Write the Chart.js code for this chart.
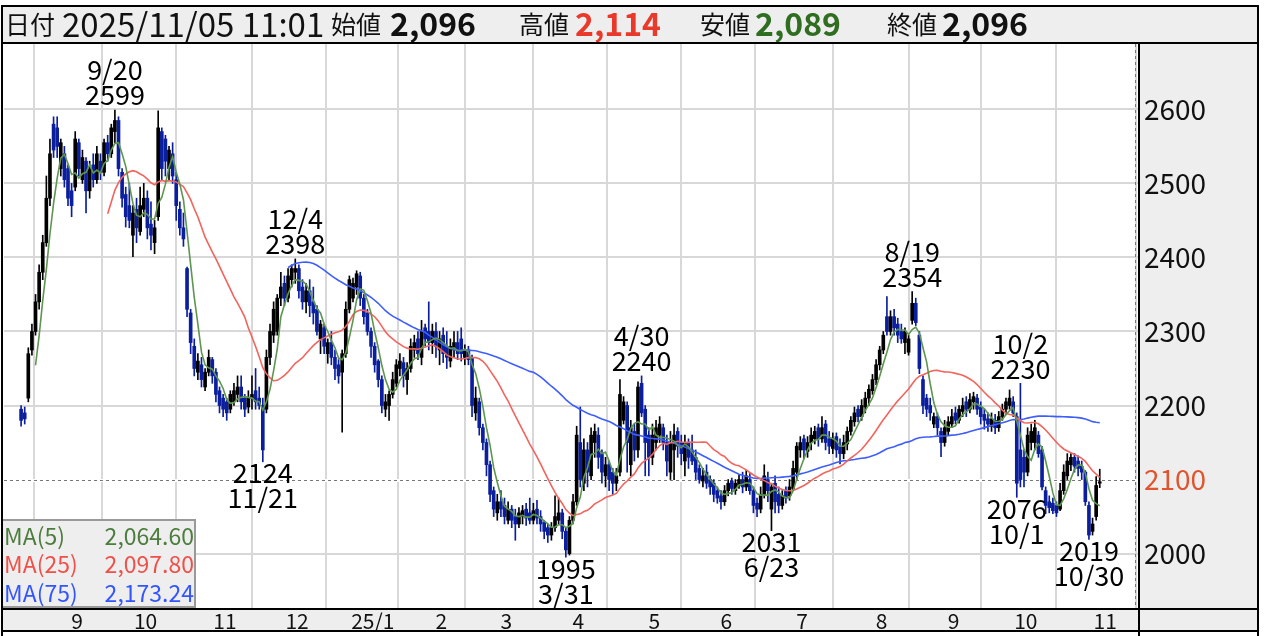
<!DOCTYPE html>
<html><head><meta charset="utf-8">
<script src="https://cdn.jsdelivr.net/npm/chart.js@4.4.1/dist/chart.umd.min.js"></script>
<style>html,body{margin:0;padding:0;background:#fff;}canvas{display:block;}</style>
</head><body>
<canvas id="c" width="1268" height="636"></canvas>
<script>
// ---- data (daily candles, 2024/08/14 .. 2025/11/05) ----
const openP = [2195,2190,2210,2275,2300,2340,2380,2420,2480,2580,2575,2520,2540,
2520,2490,2495,2555,2505,2530,2490,2525,2505,2530,2515,2555,2540,2570,2585,2515,2485,2470,2430,
2465,2435,2465,2480,2445,2420,2455,2570,2560,2520,2540,2505,2465,2440,2385,2325,2280,2245,2255,2225,2245,2262,
2245,2220,2210,2205,2195,2205,2215,2225,2210,2198,2210,2220,2210,2200,2195,2265,2295,2300,2345,2365,
2345,2370,2380,2385,2360,2340,2355,2340,2330,2290,2305,2270,2285,2265,2255,2245,2270,2330,2345,2360,2375,
2345,2325,2300,2280,2260,2235,2195,2200,2215,2230,2250,2258,2235,2250,2275,2290,2265,2305,2300,
2285,2300,2275,2295,2280,2260,2275,2285,2290,2265,2275,2265,2190,2205,2170,2150,2120,2085,
2055,2070,2065,2045,2060,2050,2040,2050,2060,2055,2045,2060,2050,2042,2035,2025,2035,2045,2055,2030,
2000,2045,2070,2150,2095,2140,2105,2150,2160,2135,2105,2120,2110,2095,2110,2180,2200,2120,2165,2140,2230,
2195,2160,2130,2150,2160,2170,2150,2110,2140,2165,2150,2125,2150,2140,2130,2115,2098,2110,2100,2095,
2085,2078,2070,2085,2098,2085,2092,2100,2090,2100,2085,2068,2060,2080,2100,2060,2095,2080,2065,2085,2078,
2088,2110,2140,2155,2138,2150,2155,2170,2155,2175,2155,2142,2158,2145,2135,2148,2165,2178,2195,2185,2198,2210,
2220,2235,2255,2275,2320,2300,2320,2310,2300,2285,2272,2315,2338,2295,2235,2210,2200,2175,2185,2165,
2150,2165,2175,2190,2180,2192,2205,2195,2205,2210,2198,2188,2182,2172,2180,2170,2185,2195,2200,2205,
2185,2140,2130,2110,2150,2150,2160,2140,2085,2070,2068,2065,2060,2085,2105,2120,2130,2125,2118,2110,2065,2030,
2050,2096];
const highP = [2200,2198,2278,2310,2350,2390,2430,2510,2560,2590,2590,2560,2550,
2525,2500,2570,2560,2545,2535,2530,2540,2550,2540,2560,2565,2580,2599,2590,2520,2495,2500,2470,
2480,2495,2500,2490,2475,2450,2598,2575,2565,2550,2555,2515,2475,2460,2387,2330,2290,2270,2265,2250,2275,2265,
2250,2225,2215,2210,2220,2230,2240,2240,2215,2220,2240,2250,2225,2210,2275,2310,2340,2350,2380,2375,
2385,2390,2398,2390,2370,2365,2370,2360,2335,2315,2310,2290,2300,2275,2262,2275,2340,2375,2372,2382,2380,
2350,2330,2305,2285,2262,2240,2215,2220,2245,2262,2270,2265,2258,2290,2295,2300,2315,2310,2340,
2310,2312,2300,2305,2300,2290,2300,2300,2305,2282,2280,2268,2225,2210,2175,2155,2125,2090,
2080,2085,2075,2070,2065,2060,2062,2065,2068,2075,2068,2072,2058,2045,2040,2042,2078,2075,2060,2035,
2050,2080,2172,2198,2155,2150,2170,2175,2170,2140,2130,2125,2115,2115,2235,2212,2205,2180,2175,2232,2240,
2200,2170,2175,2180,2185,2175,2160,2165,2175,2170,2160,2160,2155,2160,2140,2120,2115,2120,2105,2100,
2090,2085,2092,2100,2102,2100,2106,2110,2112,2108,2090,2075,2090,2120,2110,2095,2105,2090,2085,2090,2100,
2125,2150,2158,2160,2158,2170,2172,2175,2185,2180,2165,2163,2163,2155,2160,2171,2185,2198,2200,2208,2218,2228,
2242,2262,2280,2300,2347,2328,2330,2318,2310,2305,2295,2354,2345,2300,2240,2215,2210,2190,2190,2170,
2180,2185,2195,2198,2200,2210,2212,2216,2218,2215,2205,2195,2190,2190,2188,2192,2202,2210,2221,2212,
2190,2230,2140,2170,2175,2180,2165,2145,2090,2078,2075,2070,2095,2120,2135,2135,2135,2132,2125,2112,2070,2048,
2104,2114];
const lowP = [2172,2175,2205,2268,2295,2330,2370,2415,2470,2535,2535,2510,2495,
2470,2455,2490,2510,2500,2460,2480,2495,2500,2505,2510,2530,2535,2555,2510,2468,2441,2440,2401,
2420,2430,2455,2425,2410,2405,2450,2505,2510,2505,2500,2450,2430,2415,2320,2270,2240,2235,2225,2220,2240,2230,
2205,2190,2185,2180,2190,2200,2205,2195,2185,2190,2195,2195,2195,2124,2190,2255,2285,2295,2335,2335,
2340,2360,2365,2345,2330,2325,2320,2310,2295,2270,2270,2257,2255,2235,2230,2164,2265,2325,2340,2350,2335,
2310,2295,2265,2245,2225,2190,2185,2180,2210,2225,2240,2225,2215,2245,2265,2262,2255,2280,2275,
2270,2265,2255,2258,2250,2252,2265,2262,2260,2255,2255,2185,2180,2160,2140,2105,2070,2050,
2045,2050,2040,2040,2035,2018,2035,2040,2038,2040,2040,2040,2030,2020,2015,2018,2030,2040,2020,1995,
1998,2040,2065,2090,2085,2090,2100,2130,2115,2095,2090,2085,2080,2085,2105,2175,2110,2105,2125,2130,2185,
2105,2105,2120,2140,2150,2140,2105,2100,2100,2130,2120,2105,2115,2120,2100,2095,2090,2088,2080,2070,
2068,2060,2065,2078,2080,2080,2088,2082,2085,2080,2055,2050,2055,2075,2070,2031,2055,2055,2060,2068,2072,
2085,2100,2130,2128,2130,2140,2148,2145,2150,2140,2135,2135,2130,2121,2128,2140,2160,2172,2178,2180,2190,2200,
2215,2228,2248,2270,2295,2295,2295,2285,2284,2270,2268,2310,2308,2243,2189,2185,2180,2170,2160,2131,
2145,2160,2170,2175,2176,2185,2185,2190,2195,2188,2175,2168,2165,2165,2162,2165,2180,2188,2195,2185,
2076,2090,2090,2105,2140,2140,2130,2086,2054,2055,2054,2050,2058,2080,2100,2112,2110,2105,2100,2065,2019,2025,
2045,2089];
const closeP = [2180,2182,2270,2300,2340,2380,2420,2480,2540,2545,2550,2555,2505,
2480,2470,2560,2520,2535,2490,2520,2505,2540,2515,2555,2540,2575,2585,2520,2480,2455,2450,2460,
2440,2470,2480,2440,2430,2440,2575,2520,2530,2545,2510,2470,2440,2425,2330,2285,2250,2260,2235,2245,2265,2240,
2215,2200,2195,2190,2215,2220,2225,2205,2195,2210,2215,2205,2200,2140,2265,2300,2330,2345,2360,2345,
2375,2385,2385,2355,2340,2355,2335,2325,2300,2310,2280,2285,2265,2250,2240,2270,2330,2370,2365,2378,2345,
2320,2300,2280,2255,2235,2200,2205,2215,2235,2255,2260,2240,2250,2280,2285,2270,2300,2290,2285,
2300,2280,2290,2270,2265,2280,2285,2270,2270,2275,2262,2200,2210,2170,2150,2120,2080,2060,
2070,2060,2050,2060,2045,2040,2055,2058,2048,2045,2058,2048,2040,2030,2025,2035,2050,2055,2030,2005,
2045,2070,2160,2100,2140,2110,2160,2165,2130,2110,2120,2100,2095,2105,2215,2205,2150,2170,2140,2225,2190,
2150,2130,2160,2170,2175,2150,2125,2150,2160,2145,2135,2150,2130,2125,2110,2100,2105,2095,2090,2080,
2075,2070,2085,2095,2088,2095,2100,2090,2105,2085,2065,2060,2080,2105,2085,2090,2070,2065,2078,2075,2090,
2115,2145,2150,2140,2150,2160,2165,2155,2170,2150,2145,2155,2140,2135,2150,2165,2180,2190,2185,2200,2210,2222,
2235,2255,2275,2295,2300,2320,2305,2295,2290,2300,2290,2338,2312,2250,2200,2195,2190,2185,2170,2150,
2170,2178,2185,2180,2195,2200,2195,2208,2212,2195,2185,2180,2175,2182,2170,2185,2195,2205,2210,2190,
2095,2100,2110,2160,2165,2170,2135,2090,2065,2062,2058,2055,2085,2110,2125,2130,2118,2115,2110,2070,2025,2040,
2092,2096];

const monthStartIdx = [13,32,54,74,95,114,132,152,173,193,214,236,256,276,298];
const monthLabels = ['9','10','11','12','25/1','2','3','4','5','6','7','8','9','10','11'];
const yTicks = [2000,2100,2200,2300,2400,2500,2600];
const refPrice = 2100;   // dashed reference line / highlighted tick
const maPeriods = [5,25,75];
const maLegendValues = ['2,064.60','2,097.80','2,173.24'];
// [candle index, 'high' | 'low', date text]
const markers = [[26,'high','9/20'],[67,'low','11/21'],[76,'high','12/4'],[151,'low','3/31'],
  [172,'high','4/30'],[208,'low','6/23'],[247,'high','8/19'],[277,'high','10/2'],[276,'low','10/1'],[296,'low','10/30']];
const headerDate = '2025/11/05 11:01';

// ---- styles ----
const FONT = '"Noto Sans CJK JP","Noto Sans",sans-serif';
const UP = '#000000', DOWN = '#0a1e9e';
const MA_COLORS = ['#5e9650', '#f2645c', '#3e5dff'];
const MA_TEXT = ['#4d7d3e', '#f0504a', '#3355ff'];
const GRID = '#d8d8d8';
const PANEL = '#eeeeee';

const N = closeP.length;
const idx = closeP.map((_, i) => i);
const last = N - 1;
const candleColor = idx.map(i => closeP[i] >= openP[i] ? UP : DOWN);
const wickData = idx.map(i => ({x: i, y: [lowP[i], highP[i]]}));
const bodyData = idx.map(i => {
  let a = Math.min(openP[i], closeP[i]), b = Math.max(openP[i], closeP[i]);
  if (b - a < 2) { a -= 1; b += 1; }
  return {x: i, y: [a, b]};
});
function sma(n) {
  const out = [];
  let s = 0;
  for (let i = 0; i < N; i++) {
    s += closeP[i];
    if (i >= n) s -= closeP[i - n];
    if (i >= n - 1) out.push({x: i, y: s / n});
  }
  return out;
}
const fmt = v => v.toLocaleString('en-US');

const decor = {
  id: 'decor',
  beforeDraw(chart) {
    const c = chart.ctx, a = chart.chartArea;
    c.save();
    c.fillStyle = '#fff'; c.fillRect(0, 0, chart.width, chart.height);
    c.fillStyle = PANEL;
    c.fillRect(2, 5, 1256, a.top - 5);
    c.fillRect(a.right, a.top, 1258 - a.right, 631 - a.top);
    c.fillRect(2, a.bottom, 1256, 631 - a.bottom);
    c.restore();
  },
  beforeDatasetsDraw(chart) {
    const c = chart.ctx, a = chart.chartArea, ys = chart.scales.y;
    const y = Math.round(ys.getPixelForValue(refPrice)) + 0.5;
    c.save();
    c.fillStyle = '#fff'; c.fillRect(a.left, y - 1.5, a.right - a.left, 3);
    c.strokeStyle = '#777'; c.lineWidth = 1; c.setLineDash([3, 3]);
    c.beginPath(); c.moveTo(a.left, y); c.lineTo(a.right, y); c.stroke();
    c.beginPath(); c.moveTo(a.right - 2.5, a.top); c.lineTo(a.right - 2.5, a.bottom); c.stroke();
    c.restore();
  },
  afterDraw(chart) {
    const c = chart.ctx, a = chart.chartArea, xs = chart.scales.x, ys = chart.scales.y;
    c.save();
    c.fillStyle = '#000'; c.font = '27px ' + FONT; c.textAlign = 'center'; c.textBaseline = 'middle';
    markers.forEach(([i, kind, d]) => {
      const x = xs.getPixelForValue(i);
      if (kind === 'high') {
        const y = ys.getPixelForValue(highP[i]);
        c.fillText(String(highP[i]), x, y - 15);
        c.fillText(d, x, y - 40);
      } else {
        const y = ys.getPixelForValue(lowP[i]);
        c.fillText(String(lowP[i]), x, y + 11);
        c.fillText(d, x, y + 36);
      }
    });
    c.fillStyle = PANEL; c.fillRect(1, 519, 195, 88);
    c.strokeStyle = '#999'; c.lineWidth = 2; c.strokeRect(2, 520, 193, 87);
    c.font = '23px ' + FONT; c.textBaseline = 'middle';
    maPeriods.forEach((p, k) => {
      const y = 536 + k * 28.5;
      c.fillStyle = MA_TEXT[k];
      c.textAlign = 'left'; c.fillText('MA(' + p + ')', 4, y);
      c.textAlign = 'right'; c.fillText(maLegendValues[k], 194, y);
    });
    c.textAlign = 'left'; c.textBaseline = 'middle';
    const hy = 24;
    const lab = (t, x) => { c.font = '25px ' + FONT; c.fillStyle = '#111'; c.fillText(t, x, hy); };
    const val = (t, x, col) => { c.font = 'bold 32px ' + FONT; c.fillStyle = col; c.fillText(t, x, hy); };
    lab('日付', 5);
    c.font = '33px ' + FONT; c.fillStyle = '#111'; c.fillText(headerDate, 62, hy);
    lab('始値', 331); val(fmt(openP[last]), 390, '#111');
    lab('高値', 519); val(fmt(highP[last]), 575, '#e8392b');
    lab('安値', 700); val(fmt(lowP[last]), 755, '#2f6e21');
    lab('終値', 887); val(fmt(closeP[last]), 942, '#111');
    c.strokeStyle = '#000'; c.lineWidth = 2; c.setLineDash([]);
    c.beginPath();
    c.moveTo(2, 636); c.lineTo(2, 6); c.lineTo(1258, 6); c.lineTo(1258, 636);
    c.moveTo(2, a.top - 1); c.lineTo(1258, a.top - 1);
    c.moveTo(a.right + 1, a.top); c.lineTo(a.right + 1, 636);
    c.moveTo(2, a.bottom + 1); c.lineTo(1258, a.bottom + 1);
    c.moveTo(2, 631); c.lineTo(1258, 631);
    c.stroke();
    c.restore();
  }
};

new Chart(document.getElementById('c'), {
  type: 'bar',
  data: {
    datasets: [
      ...maPeriods.map((p, k) => ({type: 'line', data: sma(p), borderColor: MA_COLORS[k], borderWidth: 1.6,
        pointRadius: 0, tension: 0, order: 0})),
      {type: 'bar', data: bodyData, backgroundColor: candleColor, barThickness: 3, grouped: false, order: 1, borderWidth: 0},
      {type: 'bar', data: wickData, backgroundColor: candleColor, barThickness: 1, grouped: false, order: 2, borderWidth: 0}
    ]
  },
  options: {
    responsive: false, animation: false, devicePixelRatio: 1, events: [],
    layout: {padding: {left: 4, top: 44, right: 10, bottom: 5}},
    plugins: {legend: {display: false}, tooltip: {enabled: false}},
    scales: {
      x: {
        type: 'linear', min: -4.74, max: 309.6, offset: false,
        afterBuildTicks: s => { s.ticks = monthStartIdx.map(v => ({value: v})); },
        afterFit: s => { s.height = 23; },
        grid: {color: GRID, lineWidth: 2, drawTicks: false},
        border: {display: false},
        ticks: {align: 'center', labelOffset: 9, padding: 0, autoSkip: false, maxRotation: 0,
          font: {family: FONT, size: 21}, color: '#111', callback: (v, k) => monthLabels[k]}
      },
      y: {
        position: 'right', min: 1926.5, max: 2688.3,
        afterBuildTicks: s => { s.ticks = yTicks.map(v => ({value: v})); },
        afterFit: s => { s.width = 120; },
        grid: {color: GRID, lineWidth: 2, drawTicks: false},
        border: {display: false},
        ticks: {padding: 6, font: {family: FONT, size: 28},
          color: ctx => ctx.tick.value === refPrice ? '#e0552d' : '#111', callback: v => String(v)}
      }
    }
  },
  plugins: [decor]
});
</script>
</body></html>
